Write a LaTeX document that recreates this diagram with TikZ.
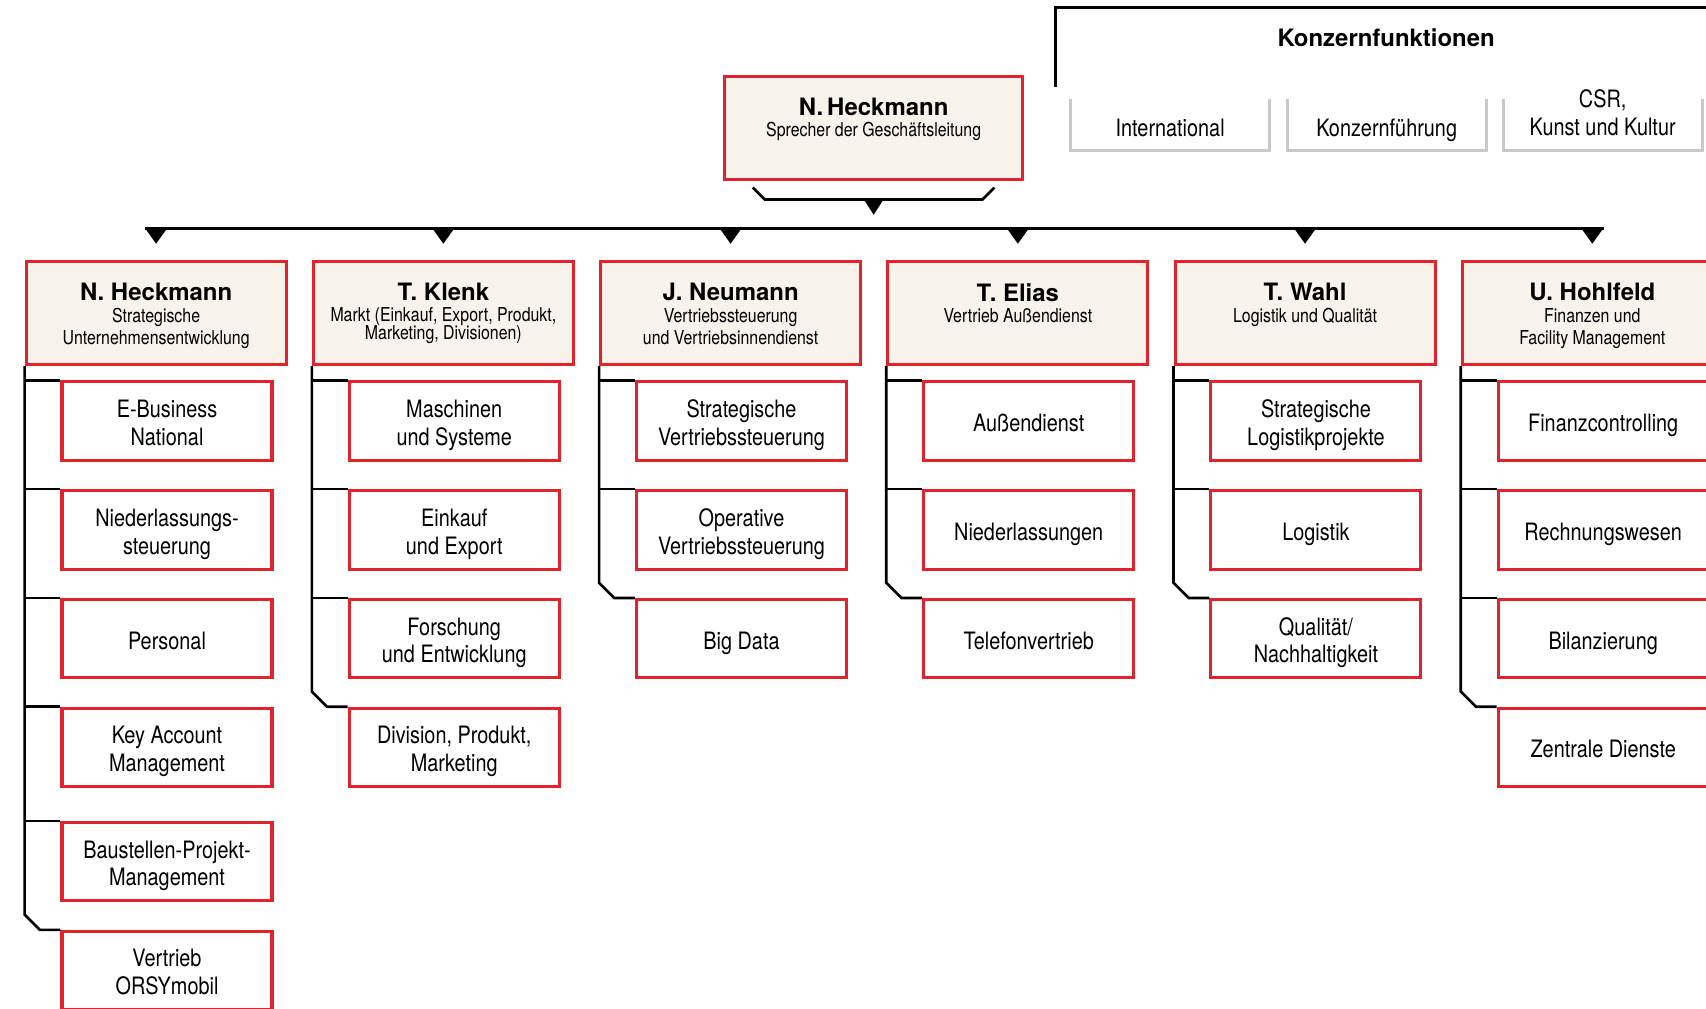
\documentclass[tikz,border=0pt]{standalone}
\usepackage{fontspec}
\setmainfont{TeX Gyre Heros}[FakeStretch=0.83]
\newfontfamily\namefont{TeX Gyre Heros}
\usetikzlibrary{calc}
\definecolor{boxred}{HTML}{E3222C}
\definecolor{cream}{HTML}{F7F3EA}
\definecolor{framegray}{HTML}{C8C8C8}
% invisible rules fixing the height of a first line and the depth of a last line,
% so that every text block sits centred in its box whatever its letters
\newcommand{\tl}{\rule{0pt}{12pt}}
\newcommand{\bl}{\rule[-2.5pt]{0pt}{2.5pt}}
\newcommand{\pname}[1]{{\namefont\bfseries\fontsize{11}{13}\selectfont #1}}
\begin{document}
\begin{tikzpicture}[x=0.5pt,y=-0.5pt,
  redbox/.style={draw=boxred,line width=1.4pt,inner sep=0pt},
  headbox/.style={redbox,fill=cream,minimum width=119.5pt,minimum height=47.5pt},
  topbox/.style={redbox,fill=cream,minimum width=137pt,minimum height=47.5pt},
  subbox/.style={redbox,fill=white,minimum width=96.5pt,minimum height=36pt,
    align=center,font=\fontsize{11}{12.8}\selectfont},
  headtext/.style={anchor=north,inner sep=0pt,align=center,font=\fontsize{8.8}{10}\selectfont},
  slot/.style={inner sep=0pt,outer sep=0pt,minimum width=91.5pt,minimum height=23.75pt},
  slottext/.style={inner sep=0pt,align=center,font=\fontsize{11}{12.8}\selectfont},
  grayframe/.style={draw=framegray,line width=1.4pt},
  spine/.style={line width=1.2pt,black},
  bus/.style={line width=1.6pt,black},
  tip/.style={fill=black},
]
\useasboundingbox (0,0) rectangle (1568,927);
\clip (0,0) rectangle (1568,927);

% ---------- group functions ----------
\draw[line width=1.2pt] (970,80) -- (970,7) -- (1580,7);
\node[inner sep=0pt,font=\namefont\bfseries\fontsize{11}{13}\selectfont] (kf) at (1274,35) {Konzernfunktionen};

\node[slot] (g1) at (1075.5,114.75) {};
\node[slot] (g2) at (1274.5,114.75) {};
\node[slot] (g3) at (1473,114.75) {};
\foreach \g in {g1,g2,g3}
  \draw[grayframe] (\g.north west) -- (\g.south west) -- (\g.south east) -- (\g.north east);
\node[slottext] (gt1) at (1075.5,115.5) {\tl International\bl};
\node[slottext] (gt2) at (1274.5,115.5) {\tl Konzernführung\bl};
\node[slottext] (gt3) at (1473,102.5) {\tl CSR,\\Kunst und Kultur\bl};

% ---------- spokesman ----------
\node[topbox] (top) at (803,117.5) {};
\node[headtext] (toptext) at (803,90) {\pname{N.\,Heckmann}\\[-0.5pt]Sprecher der Geschäftsleitung};
\draw[spine] ($(top.south)+(-111,6)$) -- ($(top.south)+(-100,17)$) -- ($(top.south)+(100,17)$) -- ($(top.south)+(111,6)$);
\fill[tip] ($(top.south)+(-9,17)$) -- ($(top.south)+(9,17)$) -- ($(top.south)+(0,31)$) -- cycle;

% ---------- divisions ----------
\node[headbox] (h1) at (143.5,287.5) {};
\node[headbox] (h2) at (407.5,287.5) {};
\node[headbox] (h3) at (671.5,287.5) {};
\node[headbox] (h4) at (935.5,287.5) {};
\node[headbox] (h5) at (1199.5,287.5) {};
\node[headbox] (h6) at (1463.5,287.5) {};

\node[headtext] (ht1) at (143.5,260) {\pname{N. Heckmann}\\Strategische\\Unternehmensentwicklung};
\node[headtext] (ht2) at (407.5,260) {\pname{T. Klenk}\\[-0.5pt]Markt (Einkauf, Export, Produkt,\\[-1.5pt]Marketing, Divisionen)};
\node[headtext] (ht3) at (671.5,260) {\pname{J. Neumann}\\Vertriebssteuerung\\und Vertriebsinnendienst};
\node[headtext] (ht4) at (935.5,260) {\pname{T. Elias}\\Vertrieb Außendienst};
\node[headtext] (ht5) at (1199.5,260) {\pname{T. Wahl}\\Logistik und Qualität};
\node[headtext] (ht6) at (1463.5,260) {\pname{U. Hohlfeld}\\Finanzen und\\Facility Management};

% distribution bus with one tip above every division
\coordinate (busL) at (133,210);
\coordinate (busR) at (1474,210);
\draw[bus] (busL) -- (busR);
\foreach \h in {h1,h2,h3,h4,h5,h6}
  \fill[tip] ($(\h.north |- busL)+(-10,0)$) -- ($(\h.north |- busL)+(10,0)$) -- ($(\h.north |- busL)+(0,14)$) -- cycle;

% ---------- departments ----------
\node[subbox] (s11) at (153.5,387) {\tl E-Business\\National\bl};
\node[subbox] (s12) at (153.5,487) {\tl Niederlassungs-\\steuerung\bl};
\node[subbox] (s13) at (153.5,587) {\tl Personal\bl};
\node[subbox] (s14) at (153.5,687) {\tl Key Account\\Management\bl};
\node[subbox] (s15) at (153.5,792) {\tl Baustellen-Projekt-\\Management\bl};
\node[subbox] (s16) at (153.5,892) {\tl Vertrieb\\ORSYmobil\bl};

\node[subbox] (s21) at (417.5,387) {\tl Maschinen\\und Systeme\bl};
\node[subbox] (s22) at (417.5,487) {\tl Einkauf\\und Export\bl};
\node[subbox] (s23) at (417.5,587) {\tl Forschung\\und Entwicklung\bl};
\node[subbox] (s24) at (417.5,687) {\tl Division, Produkt,\\Marketing\bl};

\node[subbox] (s31) at (681.5,387) {\tl Strategische\\Vertriebssteuerung\bl};
\node[subbox] (s32) at (681.5,487) {\tl Operative\\Vertriebssteuerung\bl};
\node[subbox] (s33) at (681.5,587) {\tl Big Data\bl};

\node[subbox] (s41) at (945.5,387) {\tl Außendienst\bl};
\node[subbox] (s42) at (945.5,487) {\tl Niederlassungen\bl};
\node[subbox] (s43) at (945.5,587) {\tl Telefonvertrieb\bl};

\node[subbox] (s51) at (1209.5,387) {\tl Strategische\\Logistikprojekte\bl};
\node[subbox] (s52) at (1209.5,487) {\tl Logistik\bl};
\node[subbox] (s53) at (1209.5,587) {\tl Qualität/\\Nachhaltigkeit\bl};

\node[subbox] (s61) at (1473.5,387) {\tl Finanzcontrolling\bl};
\node[subbox] (s62) at (1473.5,487) {\tl Rechnungswesen\bl};
\node[subbox] (s63) at (1473.5,587) {\tl Bilanzierung\bl};
\node[subbox] (s64) at (1473.5,687) {\tl Zentrale Dienste\bl};

% ---------- spines: head -> departments, chamfered into the last one ----------
\foreach \c/\n in {1/6,2/4,3/3,4/3,5/3,6/4}{
  \coordinate (k\c) at (h\c.south west |- s\c\n.north west);
  \draw[spine] (h\c.south west) -- ($(k\c)+(0,-14)$) -- ($(k\c)+(14,0)$) -- (s\c\n.north west);
  \pgfmathtruncatemacro{\m}{\n-1}
  \foreach \r in {1,...,\m}
    \draw[spine] (h\c.south west |- s\c\r.north west) -- (s\c\r.north west);
}
\end{tikzpicture}
\end{document}
